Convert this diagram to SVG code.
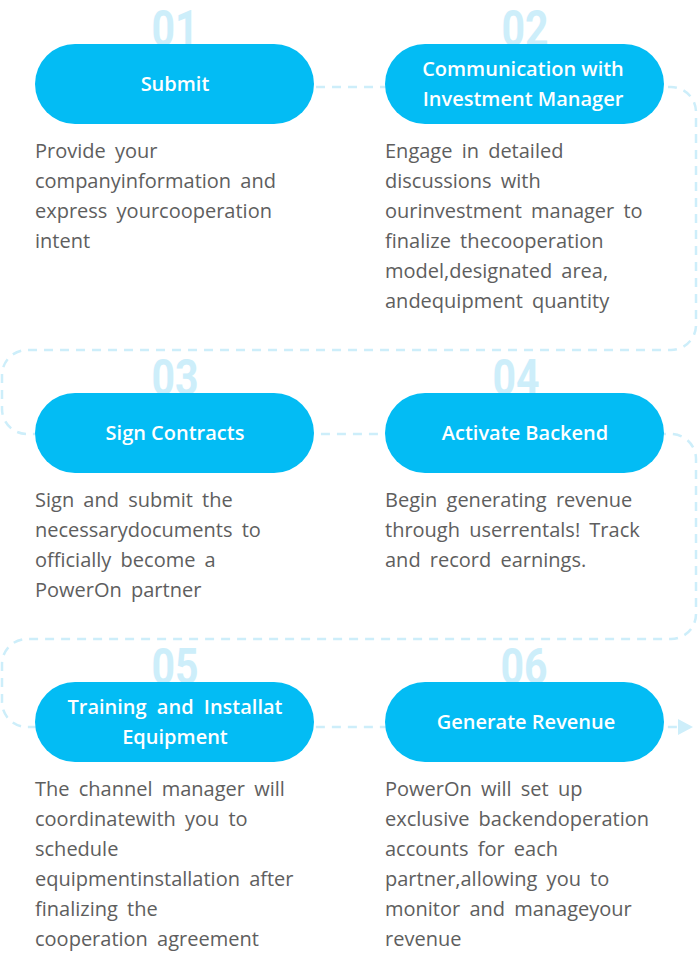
<svg xmlns="http://www.w3.org/2000/svg" width="698" height="954" viewBox="0 0 698 954">
<defs>
<style>
.num{font-family:Roboto,"Liberation Sans",sans-serif;font-weight:700;font-size:50px;fill:#cdeefa;text-anchor:middle}
.pill{fill:#03bcf4}
.ttl{font-family:"Open Sans","Noto Sans",sans-serif;font-weight:600;font-size:20px;fill:#fff;text-anchor:middle}
.desc{font-family:"Open Sans","Noto Sans",sans-serif;font-size:20px;fill:#5e5e5e;word-spacing:4px}
.conn{fill:none;stroke:#cdeefa;stroke-width:2.5;stroke-dasharray:9 7}
</style>
<marker id="arr" markerWidth="16" markerHeight="18" refX="2" refY="9" orient="auto" markerUnits="userSpaceOnUse">
<path d="M0,1 L15,9 L0,17 Z" fill="#cdeefa"/>
</marker>
</defs>
<rect width="698" height="954" fill="#fff"/>
<g id="connectors">
<path class="conn" d="M316,87 H671 A25,25 0 0 1 696,112 V325 A25,25 0 0 1 671,350 H27 A25,25 0 0 0 2,375 V409 A25,25 0 0 0 27,434 H671 A25,25 0 0 1 696,459 V614 A25,25 0 0 1 671,639 H27 A25,25 0 0 0 2,664 V702 A25,25 0 0 0 27,727 H680" marker-end="url(#arr)"/>
</g>
<g id="node1">
<text class="num" transform="translate(175,46) scale(0.82,1)">01</text>
<rect class="pill" x="35" y="44" width="279" height="80" rx="40"/>
<text class="ttl" x="175" y="91">Submit</text>
<text class="desc"><tspan x="35" y="158">Provide your</tspan><tspan x="35" y="188">companyinformation and</tspan><tspan x="35" y="218">express yourcooperation</tspan><tspan x="35" y="248">intent</tspan></text>
</g>
<g id="node2">
<text class="num" transform="translate(525,46) scale(0.82,1)">02</text>
<rect class="pill" x="385" y="44" width="279" height="80" rx="40"/>
<text class="ttl"><tspan x="523" y="76">Communication with</tspan><tspan x="523" y="106">Investment Manager</tspan></text>
<text class="desc"><tspan x="385" y="158">Engage in detailed</tspan><tspan x="385" y="188">discussions with</tspan><tspan x="385" y="218">ourinvestment manager to</tspan><tspan x="385" y="248">finalize thecooperation</tspan><tspan x="385" y="278">model,designated area,</tspan><tspan x="385" y="308">andequipment quantity</tspan></text>
</g>
<g id="node3">
<text class="num" transform="translate(175,395) scale(0.82,1)">03</text>
<rect class="pill" x="35" y="393" width="279" height="80" rx="40"/>
<text class="ttl" x="175" y="440">Sign Contracts</text>
<text class="desc"><tspan x="35" y="507">Sign and submit the</tspan><tspan x="35" y="537">necessarydocuments to</tspan><tspan x="35" y="567">officially become a</tspan><tspan x="35" y="597">PowerOn partner</tspan></text>
</g>
<g id="node4">
<text class="num" transform="translate(516,395) scale(0.82,1)">04</text>
<rect class="pill" x="385" y="393" width="279" height="80" rx="40"/>
<text class="ttl" x="525" y="440">Activate Backend</text>
<text class="desc"><tspan x="385" y="507">Begin generating revenue</tspan><tspan x="385" y="537">through userrentals! Track</tspan><tspan x="385" y="567">and record earnings.</tspan></text>
</g>
<g id="node5">
<text class="num" transform="translate(175,684) scale(0.82,1)">05</text>
<rect class="pill" x="35" y="682" width="279" height="80" rx="40"/>
<text class="ttl" style="word-spacing:5px"><tspan x="175" y="714">Training and Installat</tspan><tspan x="175" y="744">Equipment</tspan></text>
<text class="desc"><tspan x="35" y="796">The channel manager will</tspan><tspan x="35" y="826">coordinatewith you to</tspan><tspan x="35" y="856">schedule</tspan><tspan x="35" y="886">equipmentinstallation after</tspan><tspan x="35" y="916">finalizing the</tspan><tspan x="35" y="946">cooperation agreement</tspan></text>
</g>
<g id="node6">
<text class="num" transform="translate(524,684) scale(0.82,1)">06</text>
<rect class="pill" x="385" y="682" width="279" height="80" rx="40"/>
<text class="ttl" x="526" y="729">Generate Revenue</text>
<text class="desc"><tspan x="385" y="796">PowerOn will set up</tspan><tspan x="385" y="826">exclusive backendoperation</tspan><tspan x="385" y="856">accounts for each</tspan><tspan x="385" y="886">partner,allowing you to</tspan><tspan x="385" y="916">monitor and manageyour</tspan><tspan x="385" y="946">revenue</tspan></text>
</g>
</svg>
